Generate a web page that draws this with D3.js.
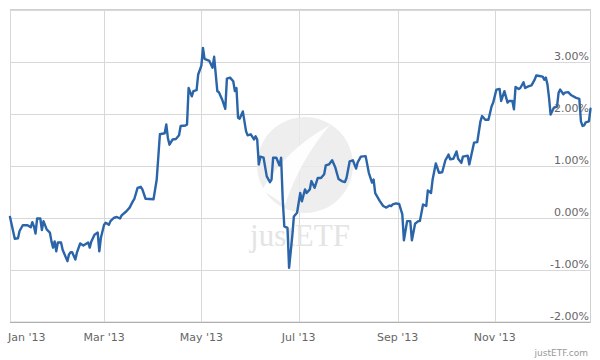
<!DOCTYPE html>
<html>
<head>
<meta charset="utf-8">
<script src="https://cdn.jsdelivr.net/npm/d3@7"></script>
<style>
  html, body { margin: 0; padding: 0; background: #fff; }
  svg { display: block; font-family: "DejaVu Sans", sans-serif; }
</style>
</head>
<body>
<svg id="chart" width="600" height="360"></svg>
<script>
const dates = [
 "2013-01-01","2013-01-04","2013-01-06","2013-01-07","2013-01-09","2013-01-12","2013-01-14","2013-01-15","2013-01-16","2013-01-17",
 "2013-01-18","2013-01-20","2013-01-21","2013-01-22","2013-01-24","2013-01-26","2013-01-27","2013-01-28","2013-01-29","2013-01-30",
 "2013-01-31","2013-02-02","2013-02-03","2013-02-06","2013-02-07","2013-02-08","2013-02-09","2013-02-11","2013-02-12","2013-02-14",
 "2013-02-16","2013-02-17","2013-02-19","2013-02-20","2013-02-21","2013-02-23","2013-02-25","2013-02-26","2013-02-27","2013-03-01",
 "2013-03-02","2013-03-04","2013-03-05","2013-03-07","2013-03-09","2013-03-11","2013-03-12","2013-03-15","2013-03-17","2013-03-19",
 "2013-03-20","2013-03-22","2013-03-24","2013-03-25","2013-03-27","2013-04-01","2013-04-03","2013-04-05","2013-04-08","2013-04-09",
 "2013-04-10","2013-04-11","2013-04-13","2013-04-15","2013-04-17","2013-04-18","2013-04-21","2013-04-22","2013-04-23","2013-04-25",
 "2013-04-26","2013-04-28","2013-04-29","2013-05-01","2013-05-02","2013-05-03","2013-05-06","2013-05-08","2013-05-09","2013-05-11",
 "2013-05-12","2013-05-14","2013-05-16","2013-05-17","2013-05-19","2013-05-21","2013-05-22","2013-05-23","2013-05-24","2013-05-25",
 "2013-05-27","2013-05-29","2013-05-30","2013-06-01","2013-06-03","2013-06-04","2013-06-05","2013-06-06","2013-06-07","2013-06-09",
 "2013-06-11","2013-06-13","2013-06-14","2013-06-15","2013-06-17","2013-06-19","2013-06-20","2013-06-21","2013-06-22","2013-06-24",
 "2013-06-25","2013-06-27","2013-06-28","2013-06-30","2013-07-02","2013-07-03","2013-07-05","2013-07-06","2013-07-08","2013-07-09",
 "2013-07-11","2013-07-13","2013-07-15","2013-07-17","2013-07-18","2013-07-20","2013-07-22","2013-07-24","2013-07-26","2013-07-28",
 "2013-07-30","2013-07-31","2013-08-02","2013-08-04","2013-08-06","2013-08-07","2013-08-09","2013-08-12","2013-08-14","2013-08-16",
 "2013-08-17","2013-08-18","2013-08-21","2013-08-23","2013-08-25","2013-08-27","2013-08-28","2013-08-29","2013-08-31","2013-09-02",
 "2013-09-04","2013-09-05","2013-09-07","2013-09-09","2013-09-10","2013-09-12","2013-09-14","2013-09-15","2013-09-17","2013-09-19",
 "2013-09-20","2013-09-22","2013-09-23","2013-09-25","2013-09-27","2013-09-29","2013-10-01","2013-10-03","2013-10-04","2013-10-06",
 "2013-10-08","2013-10-09","2013-10-11","2013-10-12","2013-10-15","2013-10-16","2013-10-19","2013-10-21","2013-10-23","2013-10-24",
 "2013-10-26","2013-10-28","2013-10-30","2013-10-31","2013-11-02","2013-11-04","2013-11-05","2013-11-07","2013-11-09","2013-11-10",
 "2013-11-12","2013-11-13","2013-11-14","2013-11-16","2013-11-17","2013-11-19","2013-11-20","2013-11-22","2013-11-24","2013-11-26",
 "2013-11-27","2013-11-29","2013-12-01","2013-12-02","2013-12-03","2013-12-04","2013-12-05","2013-12-06","2013-12-08","2013-12-10",
 "2013-12-11","2013-12-12","2013-12-14","2013-12-15","2013-12-17","2013-12-19","2013-12-22","2013-12-24","2013-12-25","2013-12-26",
 "2013-12-27","2013-12-28","2013-12-30","2013-12-31"
];
const values = [
 0.02,-0.40,-0.39,-0.25,-0.14,-0.14,-0.18,-0.08,-0.16,-0.30,
 -0.01,-0.01,-0.23,-0.06,-0.22,-0.28,-0.45,-0.57,-0.45,-0.64,
 -0.47,-0.47,-0.61,-0.83,-0.70,-0.66,-0.66,-0.80,-0.66,-0.49,
 -0.53,-0.51,-0.47,-0.57,-0.45,-0.32,-0.28,-0.64,-0.38,-0.13,
 -0.09,-0.13,-0.06,0.00,0.02,-0.01,0.05,0.13,0.20,0.32,
 0.37,0.58,0.60,0.55,0.37,0.36,0.74,1.61,1.63,1.80,
 1.54,1.41,1.51,1.52,1.59,1.77,1.78,1.80,2.50,2.34,
 2.44,2.46,2.76,2.93,3.27,3.06,3.02,2.89,3.10,2.44,
 2.42,2.28,2.10,2.68,2.70,2.63,2.44,2.50,1.93,1.91,
 2.05,1.67,1.59,1.61,1.51,1.57,1.51,1.03,1.18,1.16,
 0.80,0.69,0.74,1.16,1.16,1.01,1.16,0.36,-0.16,-0.19,
 -0.96,-0.35,0.03,0.10,0.48,0.32,0.55,0.48,0.55,0.71,
 0.58,0.77,0.77,0.84,1.01,1.03,1.11,0.97,0.75,0.71,
 0.69,0.77,1.09,1.11,0.95,1.07,1.18,1.19,0.87,0.68,
 0.74,0.48,0.32,0.23,0.20,0.24,0.23,0.26,0.28,0.27,
 0.07,-0.43,-0.06,-0.06,-0.43,-0.11,-0.06,-0.06,0.26,0.23,
 0.53,0.48,0.74,1.05,0.87,0.88,1.11,1.22,1.13,1.14,
 1.28,1.14,1.06,1.18,1.20,1.03,1.45,1.46,1.86,1.96,
 1.89,1.89,2.15,2.22,2.47,2.48,2.25,2.44,2.22,2.25,
 2.25,2.09,2.52,2.48,2.50,2.61,2.50,2.53,2.55,2.66,
 2.74,2.73,2.72,2.66,2.70,2.57,2.31,1.99,2.12,2.14,
 2.41,2.47,2.38,2.41,2.42,2.36,2.31,2.29,1.86,1.77,
 1.78,1.84,1.86,2.10
];
const xTickDates = ["2013-01-01","2013-03-01","2013-05-01","2013-07-01","2013-09-01","2013-11-01"];
const yTicks = [-2, -1, 0, 1, 2, 3];

const parse = d3.timeParse("%Y-%m-%d");
const data = dates.map((d, i) => ({ date: parse(d), value: values[i] }));

const pLeft = 10, pRight = 590.5, pTop = 10, pBottom = 322;
const svg = d3.select("#chart");

const x = d3.scaleTime()
  .domain([parse("2013-01-01"), parse("2013-12-31")])
  .range([pLeft, pRight]);
const y = d3.scaleLinear().domain([-2, 4]).range([pBottom, pTop]);

// plot border
svg.append("rect")
  .attr("x", pLeft + 0.5).attr("y", pTop - 0.5)
  .attr("width", pRight - pLeft - 0.5).attr("height", pBottom - pTop + 0.5)
  .attr("fill", "none").attr("stroke", "#d0d0d0").attr("stroke-width", 1);

// horizontal grid
svg.append("g").selectAll("line").data(yTicks.concat([4])).join("line")
  .attr("x1", pLeft).attr("x2", pRight)
  .attr("y1", d => Math.round(y(d)) + 0.5).attr("y2", d => Math.round(y(d)) + 0.5)
  .attr("stroke", "#d8d8d8").attr("stroke-width", 1);

// vertical grid
svg.append("g").selectAll("line").data(xTickDates.map(parse)).join("line")
  .attr("x1", d => Math.round(x(d)) + 0.5).attr("x2", d => Math.round(x(d)) + 0.5)
  .attr("y1", pTop).attr("y2", pBottom)
  .attr("stroke", "#d8d8d8").attr("stroke-width", 1);

// watermark
const wm = svg.append("g");
wm.append("circle").attr("cx", 305).attr("cy", 165).attr("r", 48)
  .attr("fill", "#ebebeb").attr("opacity", 0.85);
wm.append("path")
  .attr("d", "M262,190 Q285,150 330,125 Q300,160 285,205 Z")
  .attr("fill", "#ffffff").attr("opacity", 0.9);
wm.append("text").attr("x", 300).attr("y", 246).attr("text-anchor", "middle")
  .attr("font-family", "'Liberation Serif', 'DejaVu Serif', serif")
  .attr("font-size", 31).attr("fill", "#e4e4e4").text("justETF");

// bottom axis line
svg.append("line").attr("x1", pLeft).attr("x2", pRight)
  .attr("y1", pBottom + 0.5).attr("y2", pBottom + 0.5)
  .attr("stroke", "#b0b0b0").attr("stroke-width", 1);

// line
const line = d3.line().x(d => x(d.date)).y(d => y(d.value));
svg.append("path").datum(data)
  .attr("d", line).attr("fill", "none")
  .attr("stroke", "#2a64a9").attr("stroke-width", 2.4)
  .attr("stroke-linejoin", "round").attr("stroke-linecap", "round");

// x axis labels
const fmt = d3.timeFormat("%b '%y");
svg.append("g").selectAll("text").data(xTickDates.map(parse)).join("text")
  .attr("x", (d, i) => i === 0 ? 8 : x(d))
  .attr("y", 341)
  .attr("text-anchor", (d, i) => i === 0 ? "start" : "middle")
  .attr("font-size", 11).attr("fill", "#666")
  .text(d => fmt(d));

// y axis labels
svg.append("g").selectAll("text").data(yTicks).join("text")
  .attr("x", 589).attr("y", d => y(d) - 2)
  .attr("text-anchor", "end")
  .attr("font-size", 11).attr("fill", "#666")
  .text(d => d.toFixed(2) + "%");

// credit
svg.append("text").attr("x", 588).attr("y", 356).attr("text-anchor", "end")
  .attr("font-size", 9).attr("fill", "#999").text("justETF.com");
</script>
</body>
</html>
